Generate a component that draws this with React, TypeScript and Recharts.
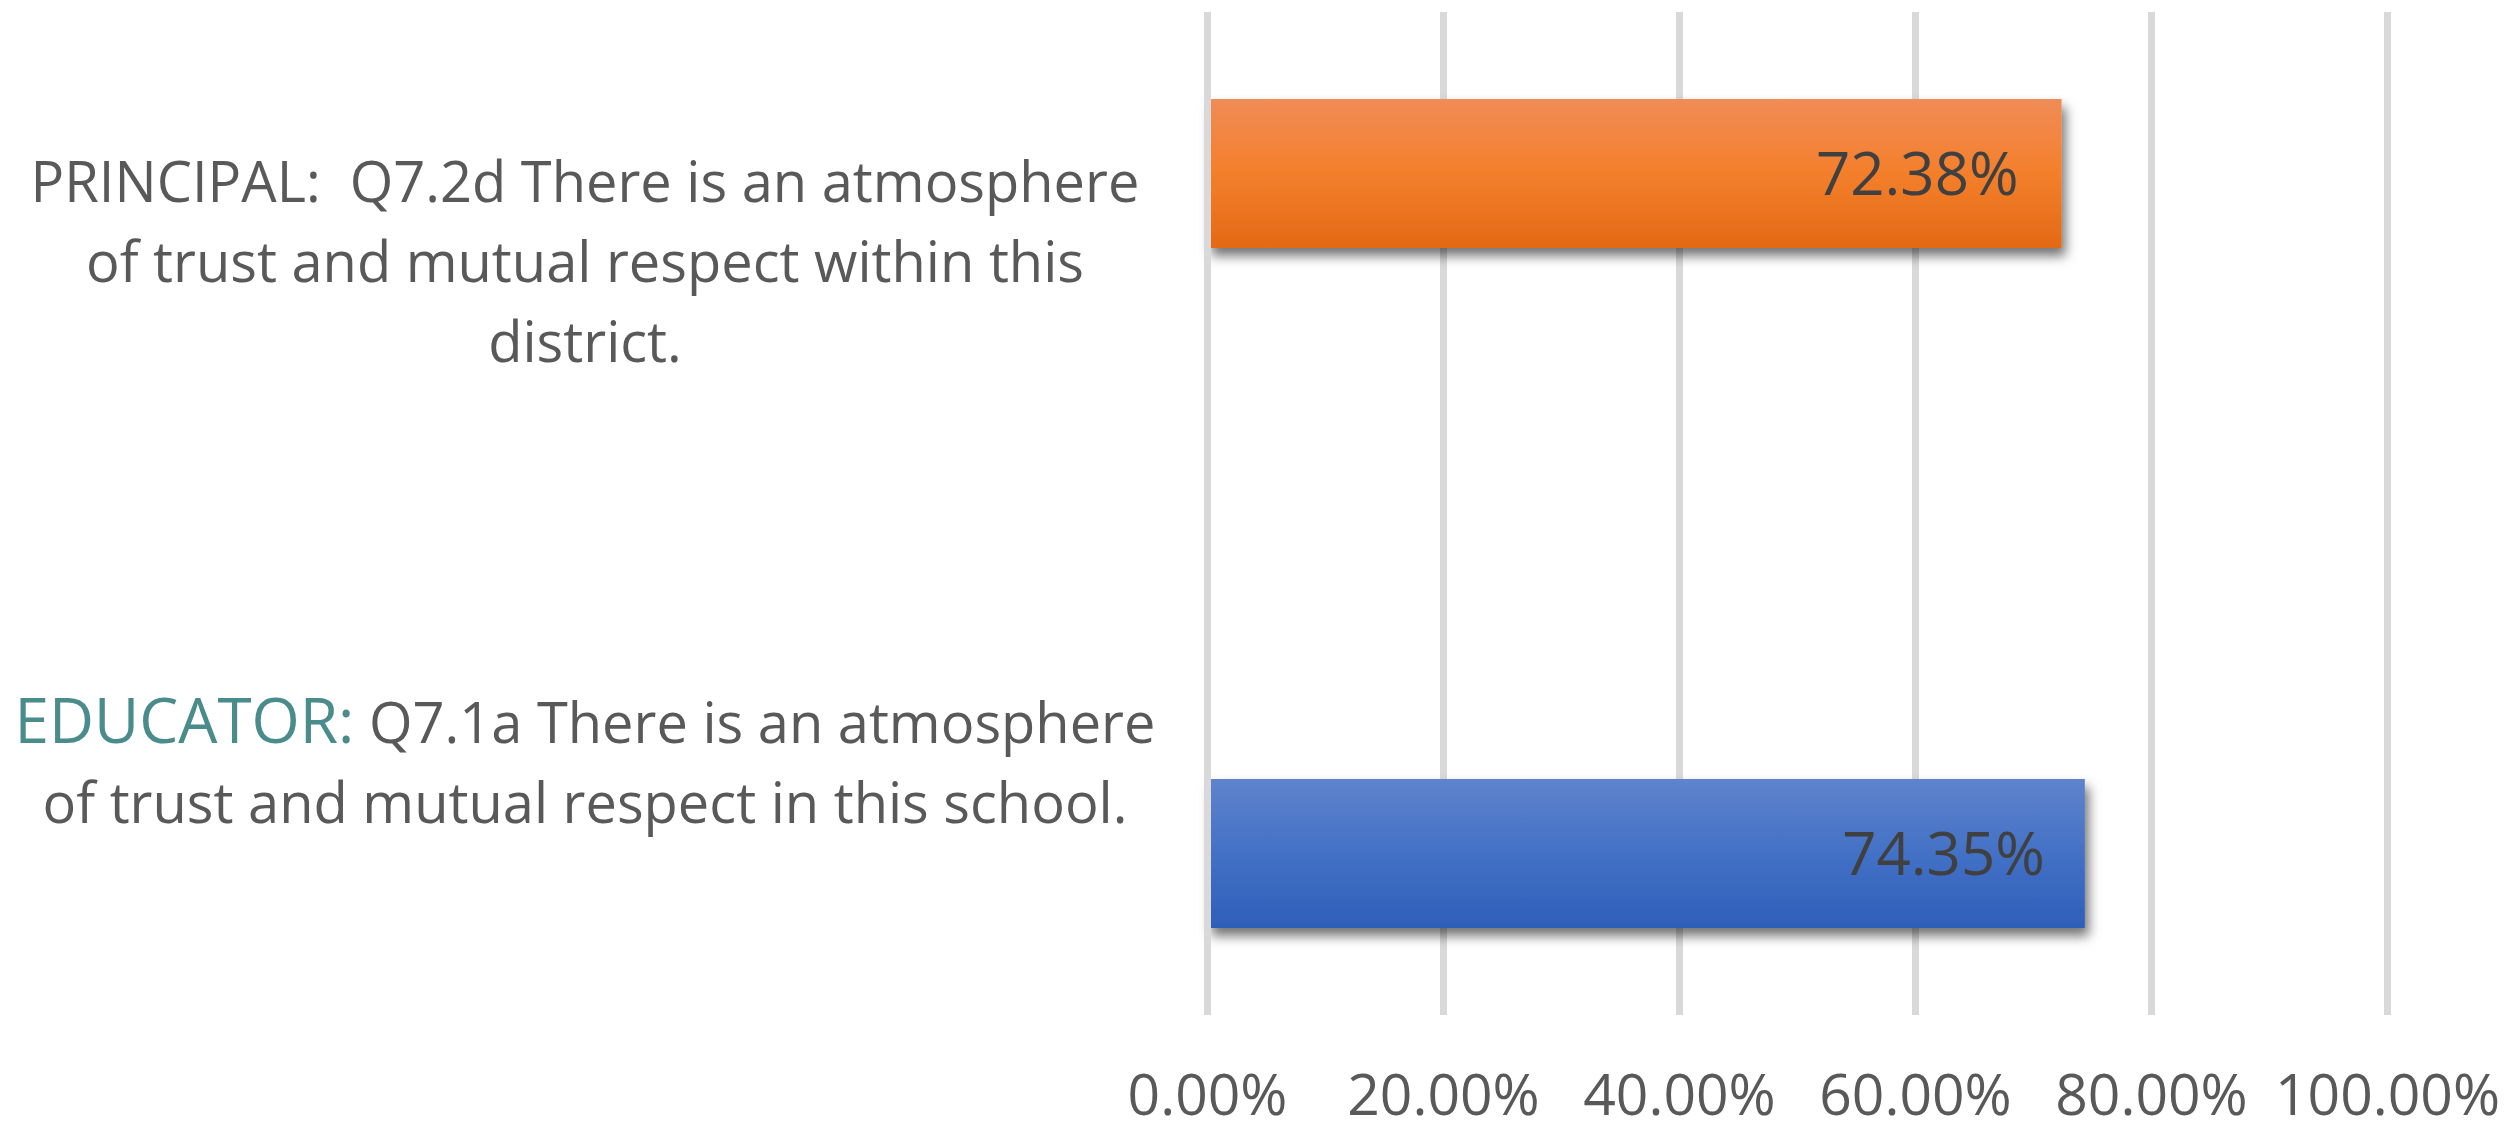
import React from 'react';
import {
  BarChart,
  Bar,
  XAxis,
  YAxis,
  CartesianGrid,
  LabelList,
  ReferenceLine,
} from 'recharts';

// Survey categories (top to bottom)
const categories = ['PRINCIPAL', 'EDUCATOR'];

// Wrapped category label lines; the prefix is drawn in the accent colour
const labelPrefixes = ['', 'EDUCATOR:'];
const labelLines = [
  ['PRINCIPAL:  Q7.2d There is an atmosphere', 'of trust and mutual respect within this', 'district.'],
  [' Q7.1a There is an atmosphere', 'of trust and mutual respect in this school.'],
];

// Percent agreeing, one series per respondent group
const principalValues = [72.38, null];
const educatorValues = [null, 74.35];

// Value axis ticks (percent)
const xTicks = [0, 20, 40, 60, 80, 100];

const data = categories.map((name, i) => ({
  name,
  principal: principalValues[i],
  educator: educatorValues[i],
}));

const W = 2517;
const H = 1131;
const FONT = '"Open Sans", "Noto Sans", sans-serif';
const TEXT_GRAY = '#595959';
const ACCENT = '#4a8b8c';
const LABEL_CENTER_X = 585;
const LINE_HEIGHT = 80;

const fmtPct = (v: number) => `${Number(v).toFixed(2)}%`;

const CategoryTick = (props: any) => {
  const { y, payload } = props;
  const idx = categories.indexOf(payload.value);
  const lines = labelLines[idx] || [];
  const prefix = labelPrefixes[idx] || '';
  const n = lines.length;
  return (
    <g>
      {lines.map((line, i) => {
        const baseY = y + 19 + (i - (n - 1) / 2) * LINE_HEIGHT;
        return (
          <text
            key={i}
            x={LABEL_CENTER_X}
            y={baseY}
            textAnchor="middle"
            fontFamily={FONT}
            fontSize={56}
            fill={TEXT_GRAY}
            style={{ whiteSpace: 'pre' }}
          >
            {i === 0 && prefix ? (
              <tspan fill={ACCENT} fontSize={62}>
                {prefix}
              </tspan>
            ) : null}
            <tspan>{line}</tspan>
          </text>
        );
      })}
    </g>
  );
};

const ValueTick = (props: any) => {
  const { x, y, payload } = props;
  return (
    <text
      x={x}
      y={y + 100}
      textAnchor="middle"
      fontFamily={FONT}
      fontSize={57}
      fill={TEXT_GRAY}
    >
      {fmtPct(payload.value)}
    </text>
  );
};

const ShadowBar = (props: any) => {
  const { x, y, width, height, fill } = props;
  if (!width || width <= 0 || !height) return null;
  return <rect x={x} y={y} width={width} height={height} fill={fill} filter="url(#barShadow)" />;
};

export default function App() {
  return (
    <div style={{ position: 'absolute', left: 0, top: 0, width: W, height: H, background: '#ffffff' }}>
      <BarChart
        width={W}
        height={H}
        data={data}
        layout="vertical"
        margin={{ top: 12, right: 129.5, bottom: 0, left: 0 }}
        barSize={149}
        barGap={29.5}
      >
        <defs>
          <linearGradient id="gradOrange" x1="0" y1="0" x2="0" y2="1">
            <stop offset="0%" stopColor="#f08c57" />
            <stop offset="50%" stopColor="#f47f2b" />
            <stop offset="100%" stopColor="#e36915" />
          </linearGradient>
          <linearGradient id="gradBlue" x1="0" y1="0" x2="0" y2="1">
            <stop offset="0%" stopColor="#5f83cc" />
            <stop offset="50%" stopColor="#4371c6" />
            <stop offset="100%" stopColor="#2e5fb9" />
          </linearGradient>
          <filter id="barShadow" x="-10%" y="-40%" width="125%" height="190%">
            <feDropShadow dx="4" dy="8" stdDeviation="6" floodColor="#000000" floodOpacity="0.55" />
          </filter>
        </defs>
        <CartesianGrid horizontal={false} stroke="#d9d9d9" strokeWidth={7} />
        <XAxis
          type="number"
          domain={[0, 100]}
          ticks={xTicks}
          axisLine={false}
          tickLine={false}
          tickSize={0}
          tickMargin={0}
          height={116}
          tick={<ValueTick />}
          interval={0}
        />
        <YAxis
          type="category"
          dataKey="name"
          width={1207.5}
          axisLine={false}
          tickLine={false}
          tick={<CategoryTick />}
          interval={0}
        />
        <Bar dataKey="principal" fill="url(#gradOrange)" shape={<ShadowBar />} isAnimationActive={false}>
          <LabelList
            dataKey="principal"
            position="insideRight"
            offset={43}
            formatter={(v: any) => (v == null ? '' : fmtPct(v))}
            fill="#404040"
            fontSize={60}
            fontFamily={FONT}
          />
        </Bar>
        <Bar dataKey="educator" fill="url(#gradBlue)" shape={<ShadowBar />} isAnimationActive={false}>
          <LabelList
            dataKey="educator"
            position="insideRight"
            offset={40}
            formatter={(v: any) => (v == null ? '' : fmtPct(v))}
            fill="#404040"
            fontSize={60}
            fontFamily={FONT}
          />
        </Bar>
        <ReferenceLine x={0} stroke="#d9d9d9" strokeWidth={7} />
      </BarChart>
    </div>
  );
}
